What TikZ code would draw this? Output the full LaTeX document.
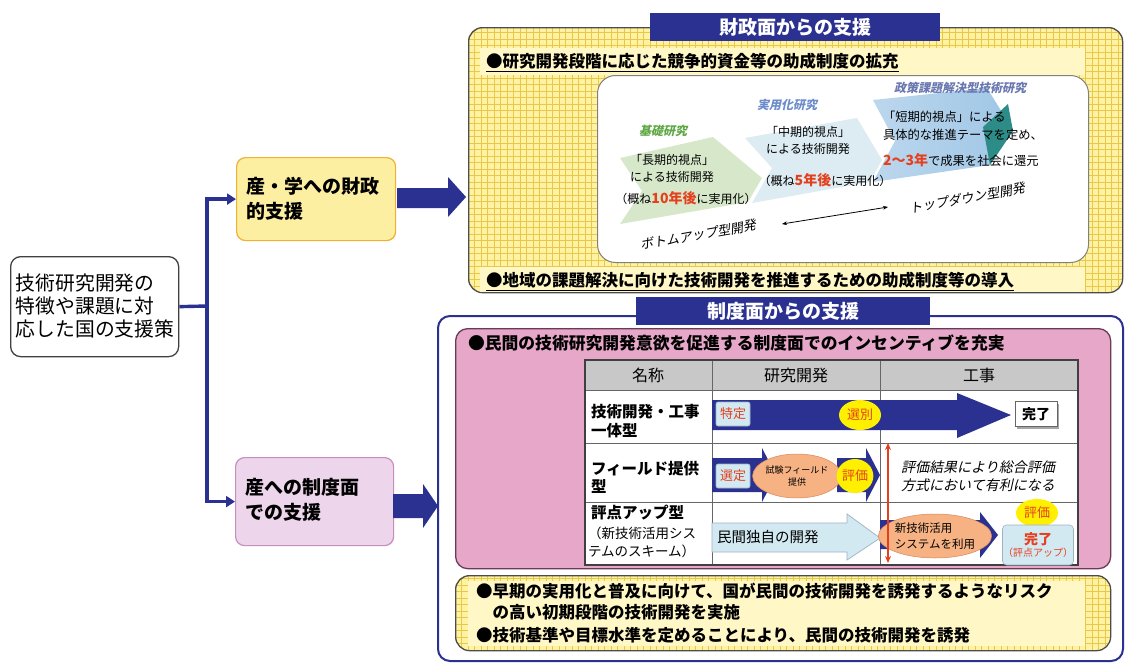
\documentclass[tikz,border=0pt]{standalone}
\usepackage{fontspec}
\setmainfont{Noto Sans CJK JP}
\newfontfamily\itj[FakeSlant=0.22]{Noto Sans CJK JP}
\usetikzlibrary{calc,arrows.meta,shapes.geometric}
\definecolor{navy}{HTML}{2B3190}
\definecolor{ylwbg}{HTML}{FFF3A3}
\definecolor{ylwln}{HTML}{E8C84A}
\definecolor{ylwband}{HTML}{FFF8C6}
\definecolor{pinkbg}{HTML}{E6A7C9}
\definecolor{pinkbd}{HTML}{6A3B55}
\definecolor{finbg}{HTML}{FDEFA2}
\definecolor{finbd}{HTML}{F0B030}
\definecolor{sysbg}{HTML}{EDD5EC}
\definecolor{sysbd}{HTML}{C88EC0}
\definecolor{ltblue}{HTML}{D3E9F2}
\definecolor{ltbluebd}{HTML}{9DB3C2}
\definecolor{redtx}{HTML}{E5401E}
\definecolor{orng}{HTML}{F6B283}
\definecolor{orngbd}{HTML}{D9885A}
\definecolor{yel}{HTML}{FFF000}
\definecolor{hdrgray}{HTML}{C8C8C8}
\definecolor{grnlab}{HTML}{5FA845}
\definecolor{bluelab}{HTML}{6C8CCB}
\definecolor{bluelab2}{HTML}{6A78B0}
\definecolor{chgreen}{HTML}{D6E8C9}
\definecolor{chlblue}{HTML}{D9EAF1}
\definecolor{chblue}{HTML}{9FC6E6}
\definecolor{chteal}{HTML}{2E8C88}
\newcommand\fsz[2]{\fontsize{#1}{#2}\selectfont}
\newcommand\gridpanel[4]{%
  \begin{scope}
    \clip[rounded corners=14pt] (#1,#2) rectangle (#3,#4);
    \fill[ylwbg] (#1,#2) rectangle (#3,#4);
    \draw[ylwln, line width=0.6pt, step=6.5pt] (#1,#2) grid (#3,#4);
  \end{scope}}
\tikzset{
  txt/.style={inner sep=0pt, outer sep=0pt},
  banner/.style={fill=navy, text=white, font=\bfseries\fsz{19}{22}, inner sep=0pt, minimum height=28pt},
  navyarrow/.style={fill=navy, draw=none},
  cell/.style={draw=gray!80!black, line width=0.8pt},
  lbl/.style={fill=ltblue, draw=ltbluebd, line width=0.6pt, rounded corners=2pt, text=redtx, font=\fsz{13}{15}, inner sep=0pt, minimum width=34pt, minimum height=24pt},
  yov/.style={ellipse, fill=yel, draw=none, text=redtx, font=\fsz{13}{15}, inner sep=0pt},
  oov/.style={ellipse, fill=orng, draw=orngbd, line width=0.5pt, inner sep=0pt},
  conn/.style={draw=navy, line width=3.4pt},
}
\begin{document}
\begin{tikzpicture}[x=1pt,y=-1pt]
\useasboundingbox (0,0) rectangle (1128,664);
\fill[white] (0,0) rectangle (1128,664);

% ---------------- left part ----------------
\node[draw=black!75, line width=1.3pt, rounded corners=10pt, fill=white, minimum width=168pt, minimum height=100pt, anchor=north west, inner sep=0pt] (src) at (10,256) {};
\node[txt, anchor=west, align=left, font=\fsz{19.8}{23}] (srct) at (16,306) {技術研究開発の\\特徴や課題に対\\応した国の支援策};

\node[draw=finbd, fill=finbg, line width=1.2pt, rounded corners=9pt, minimum width=159pt, minimum height=83pt, anchor=north west, inner sep=0pt] (fin) at (236,157) {};
\node[txt, anchor=west, align=left, font=\bfseries\fsz{19}{25}] (fint) at (246,199) {産・学への財政\\的支援};

\node[draw=sysbd, fill=sysbg, line width=1.2pt, rounded corners=9pt, minimum width=158pt, minimum height=88pt, anchor=north west, inner sep=0pt] (sys) at (235,457) {};
\node[txt, anchor=west, align=left, font=\bfseries\fsz{19}{25}] (syst) at (245,500) {産への制度面\\での支援};

\coordinate (j) at (207,306);
\draw[conn] (src.east) -- (j);
\draw[conn, -{Triangle[length=9pt,width=11pt]}] (j) |- (fin.west);
\draw[conn, -{Triangle[length=9pt,width=11pt]}] (j) |- (sys.west);

% big block arrows
\fill[navyarrow] (397,188) -- (448,188) -- (448,177) -- (466,197) -- (448,217) -- (448,208) -- (397,208) -- cycle;
\fill[navyarrow] (393,494) -- (423,494) -- (423,484) -- (438,506) -- (423,528) -- (423,518) -- (393,518) -- cycle;

% ---------------- top panel ----------------
\gridpanel{468}{27}{1122}{292}
\node[draw=black!70, line width=1.3pt, rounded corners=14pt, minimum width=654pt, minimum height=265pt, anchor=north west, inner sep=0pt] (fpanel) at (468,27) {};
\node[banner, minimum width=290pt] (fban) at (795,27) {財政面からの支援};

\fill[ylwband] (480,48) rectangle (1085,75);
\node[txt, anchor=west, font=\bfseries\fsz{16.5}{19}] (f1) at (486,61) {●研究開発段階に応じた競争的資金等の助成制度の拡充};
\draw[black, line width=1pt] (f1.south west) ++(0,2) -- ($(f1.south east)+(0,2)$);

\fill[ylwband] (480,267) rectangle (1085,292);
\node[txt, anchor=west, font=\bfseries\fsz{16.5}{19}] (f2) at (486,280) {●地域の課題解決に向けた技術開発を推進するための助成制度等の導入};
\draw[black, line width=1pt] (f2.south west) ++(0,2) -- ($(f2.south east)+(0,2)$);

\node[draw=black!50, line width=1pt, fill=white, rounded corners=18pt, minimum width=491pt, minimum height=187pt, anchor=north west, inner sep=0pt] (wbox) at (597,75) {};

% chevrons
\fill[chgreen] (620,158) -- (713,137) -- (762,178) -- (748,202) -- (620,224) -- (642,191) -- cycle;
\fill[chlblue, opacity=0.9] (745,138) -- (857,118) -- (882,160) -- (870,182) -- (752,203) -- (772,168) -- cycle;
\shade[left color=chblue!70!white, right color=chblue] (873,100) -- (987,88) -- (1013,130) -- (990,165) -- (873,182) -- (895,141) -- cycle;
\fill[chteal] (983,127) -- (1008,104) -- (1013,131) -- (990,165) -- cycle;

\node[txt, font=\itj\bfseries\fsz{12}{14}, text=grnlab] (kiso) at (663,131) {基礎研究};
\node[txt, align=center, font=\fsz{12}{17}] (kiso1) at (672,168) {「長期的視点」\\による技術開発};
\node[txt, font=\fsz{12}{15}] (kiso2) at (686,198) {（概ね{\color{redtx}\bfseries\fsz{14}{15}10年後}に実用化）};

\node[txt, font=\itj\bfseries\fsz{12}{14}, text=bluelab] (jitsu) at (787,105) {実用化研究};
\node[txt, align=center, font=\fsz{12}{17}] (jitsu1) at (808,140) {「中期的視点」\\による技術開発};
\node[txt, font=\fsz{12}{15}] (jitsu2) at (825,180) {（概ね{\color{redtx}\bfseries\fsz{14}{15}5年後}に実用化）};

\node[txt, font=\itj\bfseries\fsz{12}{14}, text=bluelab2] (seisaku) at (960,88) {政策課題解決型技術研究};
\node[txt, anchor=west, font=\fsz{12.3}{14}] (s1) at (883,117) {「短期的視点」による};
\node[txt, anchor=west, font=\fsz{12.3}{14}] (s2) at (883,135) {具体的な推進テーマを定め、};
\node[txt, anchor=west, font=\fsz{12.3}{14}] (s3) at (883,160) {{\color{redtx}\bfseries\fsz{14}{15}2～3年}で成果を社会に還元};

\coordinate (da) at (782,224);
\coordinate (db) at (888,207);
\draw[black, line width=0.8pt, {Stealth[length=5pt]}-{Stealth[length=5pt]}] (da) -- (db);
\node[txt, rotate=10, font=\itj\fsz{13}{15}] (bu) at (698,235) {ボトムアップ型開発};
\node[txt, rotate=10, font=\itj\fsz{13}{15}] (td) at (967,198) {トップダウン型開発};

% ---------------- middle panel ----------------
\node[draw=navy, line width=2pt, fill=white, rounded corners=12pt, minimum width=685pt, minimum height=345pt, anchor=north west, inner sep=0pt] (spanel) at (437,315) {};
\node[banner, minimum width=294pt] (sban) at (783,311) {制度面からの支援};

\node[draw=pinkbd, line width=1.3pt, fill=pinkbg, rounded corners=12pt, minimum width=655pt, minimum height=240pt, anchor=north west, inner sep=0pt] (pink) at (455,328) {};
\node[txt, anchor=west, font=\bfseries\fsz{16.8}{19}] (p1) at (468,343) {●民間の技術研究開発意欲を促進する制度面でのインセンティブを充実};

% table
\fill[white] (585,360) rectangle (1078,565);
\fill[hdrgray] (585,360) rectangle (1078,390);
\draw[cell] (585,390) -- (1078,390);
\draw[cell] (585,443) -- (1078,443);
\draw[cell] (585,502) -- (1078,502);
\draw[cell] (712,360) -- (712,565);
\draw[cell] (880,360) -- (880,565);
\draw[black!75, line width=1.2pt] (585,360) rectangle (1078,565);

\node[txt, font=\fsz{16}{18}] (h1) at (648,375) {名称};
\node[txt, font=\fsz{16}{18}] (h2) at (796,375) {研究開発};
\node[txt, font=\fsz{16}{18}] (h3) at (979,375) {工事};

\node[txt, anchor=west, align=left, font=\bfseries\fsz{15.5}{19}] (r1) at (591,421) {技術開発・工事\\一体型};
\node[txt, anchor=west, align=left, font=\bfseries\fsz{15.5}{18}] (r2) at (591,477) {フィールド提供\\型};
\node[txt, anchor=west, font=\bfseries\fsz{15.5}{18}] (r3a) at (591,513) {評点アップ型};
\node[txt, anchor=west, align=left, font=\fsz{13.5}{18}] (r3b) at (588,542) {（新技術活用シス\\テムのスキーム）};

% row 1
\fill[navyarrow] (712,400) -- (957,400) -- (957,393) -- (1011,415) -- (957,438) -- (957,430) -- (712,430) -- cycle;
\node[lbl] (tokutei) at (733,414) {特定};
\node[yov, minimum width=42pt, minimum height=30pt] (senbetsu) at (860,415) {選別};
\draw[black!35, line width=2.5pt] (1058,404) -- (1058,428) -- (1017,428);
\node[draw=black!60, fill=white, line width=0.8pt, font=\bfseries\fsz{14}{16}, minimum width=42pt, minimum height=25pt, inner sep=0pt] (kanryo1) at (1036,414) {完了};

% row 2
\fill[navyarrow] (712,458) -- (762,458) -- (762,448) -- (776,475) -- (762,502) -- (762,492) -- (712,492) -- cycle;
\fill[navyarrow] (837,458) -- (866,458) -- (866,448) -- (880,475) -- (866,502) -- (866,492) -- (837,492) -- cycle;
\node[lbl] (sentei) at (733,476) {選定};
\node[oov, minimum width=64pt, minimum height=44pt, align=center, font=\fsz{9}{12}] (shiken) at (797,476) {試験フィールド\\提供};
\node[yov, minimum width=34pt, minimum height=34pt] (hyoka2) at (855,476) {評価};
\node[txt, align=center, font=\itj\fsz{14}{18}] (kekka) at (978,476) {評価結果により総合評価\\方式において有利になる};

% row 3
\fill[ltblue, draw=ltbluebd, line width=0.7pt] (712,523) -- (847,523) -- (847,514) -- (880,538) -- (847,560) -- (847,552) -- (712,552) -- cycle;
\node[txt, anchor=west, font=\fsz{14.5}{16}] (minkan) at (717,537) {民間独自の開発};
\fill[navyarrow] (880,520) -- (980,520) -- (980,512) -- (998,535) -- (980,558) -- (980,549) -- (880,549) -- cycle;
\node[oov, minimum width=98pt, minimum height=44pt, align=left, font=\fsz{11.5}{16}] (shin) at (935,536) {新技術活用\\システムを利用};
\node[yov, minimum width=42pt, minimum height=28pt] (hyoka3) at (1037,513) {評価};
\node[fill=ltblue, draw=ltbluebd, line width=0.6pt, rounded corners=4pt, minimum width=71pt, minimum height=40pt, inner sep=0pt, align=center, text=redtx] (kanryo3) at (1038,545) {{\bfseries\fsz{14}{17}完了}\\{\fsz{10}{12}（評点アップ）}};

% red double arrow
\coordinate (ra) at (888,443);
\coordinate (rb) at (888,563);
\draw[redtx, line width=1.6pt, {Stealth[length=7pt,width=6pt]}-{Stealth[length=7pt,width=6pt]}] (ra) -- (rb);

% bottom yellow box
\gridpanel{455}{575}{1110}{650}
\fill[ylwband] (468,581) rectangle (1085,646);
\node[draw=black!70, line width=1.3pt, rounded corners=14pt, minimum width=655pt, minimum height=75pt, anchor=north west, inner sep=0pt] (bpanel) at (455,575) {};
\node[txt, anchor=west, align=left, font=\bfseries\fsz{16.5}{21}] (b1) at (476,602) {●早期の実用化と普及に向けて、国が民間の技術開発を誘発するようなリスク\\\hspace*{1em}の高い初期段階の技術開発を実施};
\node[txt, anchor=west, font=\bfseries\fsz{16.5}{19}] (b2) at (476,635) {●技術基準や目標水準を定めることにより、民間の技術開発を誘発};
\end{tikzpicture}
\end{document}
